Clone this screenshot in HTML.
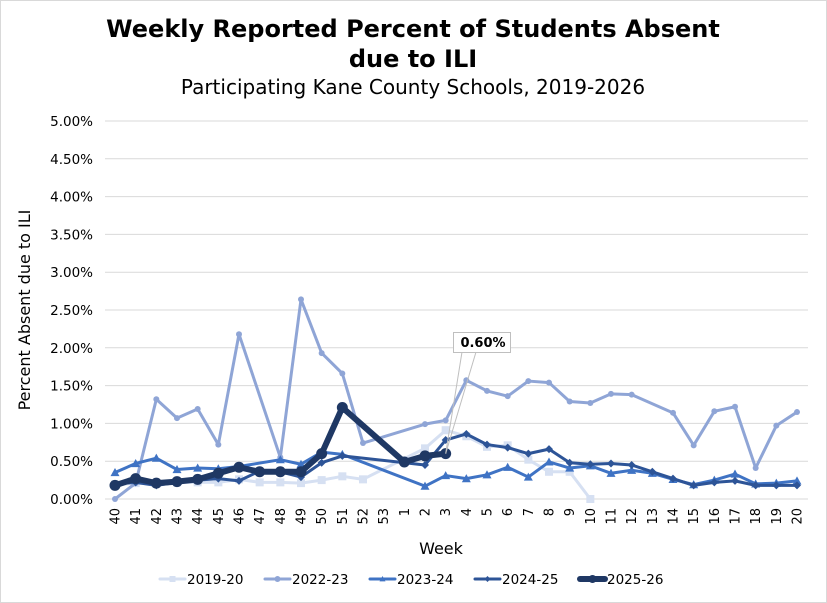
<!DOCTYPE html>
<html><head><meta charset="utf-8"><style>
body{margin:0;background:#fff;}
svg{display:block;font-family:"DejaVu Sans","Liberation Sans",sans-serif;}
</style></head><body>
<svg id="chart" width="827" height="603" viewBox="0 0 827 603">
<rect x="0.5" y="0.5" width="826" height="602" fill="#fff" stroke="#d9d9d9"/>
<text x="413" y="37" text-anchor="middle" font-size="24" font-weight="bold" fill="#000">Weekly Reported Percent of Students Absent</text>
<text x="413" y="67" text-anchor="middle" font-size="24" font-weight="bold" fill="#000">due to ILI</text>
<text x="413" y="94" text-anchor="middle" font-size="20" fill="#000">Participating Kane County Schools, 2019-2026</text>
<text transform="translate(30,310) rotate(-90)" text-anchor="middle" font-size="16" fill="#000">Percent Absent due to ILI</text>
<text x="441" y="554" text-anchor="middle" font-size="16" fill="#000">Week</text>
<g id="grid"></g><g id="yt"></g><g id="xt"></g><g id="series"></g><g id="legend"></g>
</svg>
<script>
const categories=["40","41","42","43","44","45","46","47","48","49","50","51","52","53","1","2","3","4","5","6","7","8","9","10","11","12","13","14","15","16","17","18","19","20"];
const yTicks=[0,0.5,1,1.5,2,2.5,3,3.5,4,4.5,5];
const yTickLabels=["0.00%","0.50%","1.00%","1.50%","2.00%","2.50%","3.00%","3.50%","4.00%","4.50%","5.00%"];
const s2019=[0.19,0.21,0.2,0.22,0.22,0.22,0.26,0.22,0.22,0.21,0.25,0.30,0.26,null,null,0.67,0.91,0.83,0.69,0.71,0.52,0.36,0.36,0.0,null,null,null,null,null,null,null,null,null,null];
const s2022=[0.0,0.21,1.32,1.07,1.19,0.72,2.18,null,0.55,2.64,1.93,1.66,0.74,null,null,0.99,1.04,1.57,1.43,1.36,1.56,1.54,1.29,1.27,1.39,1.38,null,1.14,0.71,1.16,1.22,0.41,0.97,1.15];
const s2023=[0.35,0.47,0.54,0.39,0.41,0.40,0.43,null,0.52,0.46,0.62,0.59,null,null,null,0.17,0.31,0.27,0.32,0.42,0.29,0.49,0.41,0.44,0.34,0.38,0.34,0.26,0.19,0.25,0.33,0.20,0.21,0.24];
const s2024=[0.20,0.22,0.18,0.22,0.25,0.27,0.24,0.37,0.36,0.29,0.48,0.57,null,null,null,0.45,0.78,0.86,0.72,0.68,0.60,0.66,0.48,0.46,0.47,0.45,0.36,0.27,0.18,0.22,0.24,0.18,0.18,0.18];
const s2025=[0.18,0.27,0.21,0.23,0.26,0.34,0.42,0.36,0.36,0.36,0.60,1.21,null,null,0.49,0.57,0.60,null,null,null,null,null,null,null,null,null,null,null,null,null,null,null,null,null];
const seriesNames=["2019-20","2022-23","2023-24","2024-25","2025-26"];
const NS="http://www.w3.org/2000/svg";
const X0=115,X1=797,Y0=499,Ytop=121;
function xs(i){return X0+i*(X1-X0)/(categories.length-1);}
function ys(v){return Y0-v/5*(Y0-Ytop);}
function el(tag,attrs,parent){const e=document.createElementNS(NS,tag);for(const k in attrs)e.setAttribute(k,attrs[k]);parent.appendChild(e);return e;}
const grid=document.getElementById('grid'),yt=document.getElementById('yt'),xt=document.getElementById('xt'),sg=document.getElementById('series'),lg=document.getElementById('legend');
yTicks.forEach((t,i)=>{
 const l=el('line',{x1:105,x2:808,y1:ys(t),y2:ys(t),stroke:'#d9d9d9','stroke-width':1},grid);
 
 
 const tx=el('text',{x:93,y:ys(t)+5,'text-anchor':'end','font-size':13.5,fill:'#000'},yt);
 tx.textContent=yTickLabels[i];
 
 
});
categories.forEach((c,i)=>{
 const tx=el('text',{transform:`translate(${xs(i)+4.5},${508}) rotate(-90)`,'text-anchor':'end','font-size':13,fill:'#000'},xt);
 tx.textContent=c;
 
 
});
const styles=[
 {d:s2019,c:'#d6e0f2',w:3,m:'square',ms:4},
 {d:s2022,c:'#8fa5d6',w:3,m:'circle',ms:3},
 {d:s2023,c:'#3f73c4',w:3,m:'triangle',ms:4.5},
 {d:s2024,c:'#2d5497',w:3,m:'diamond',ms:4},
 {d:s2025,c:'#1f3864',w:6,m:'circle',ms:5.5}
];
function marker(type,x,y,s,c,parent){
 let e;
 if(type==='square')e=el('rect',{x:x-s,y:y-s,width:2*s,height:2*s,fill:c},parent);
 else if(type==='circle')e=el('circle',{cx:x,cy:y,r:s,fill:c},parent);
 else if(type==='triangle')e=el('polygon',{points:`${x},${y-s} ${x+s},${y+s*0.8} ${x-s},${y+s*0.8}`,fill:c},parent);
 else e=el('polygon',{points:`${x},${y-s} ${x+s},${y} ${x},${y+s} ${x-s},${y}`,fill:c},parent);
 return e;
}
styles.forEach((st,si)=>{
 const g=el('g',{},sg);
 
 
 const pts=[];st.d.forEach((v,i)=>{if(v!==null)pts.push([xs(i),ys(v)]);});
 const p=el('polyline',{points:pts.map(q=>q.join(',')).join(' '),fill:'none',stroke:st.c,'stroke-width':st.w,'stroke-linejoin':'round','stroke-linecap':'round'},g);
 
 
 pts.forEach(q=>{const m=marker(st.m,q[0],q[1],st.ms,st.c,g);
  
  });
});
const li=16, lx=xs(li), ly=ys(s2025[li]);
const cg=el('g',{},sg);


el('line',{x1:lx,y1:ly,x2:462,y2:352,stroke:'#bfbfbf','stroke-width':1},cg);
el('line',{x1:lx,y1:ly,x2:476,y2:352,stroke:'#bfbfbf','stroke-width':1},cg);
el('rect',{x:453.5,y:332.5,width:57,height:20,fill:'#fff',stroke:'#bfbfbf'},cg);
const ct=el('text',{x:483,y:347,'text-anchor':'middle','font-size':13,'font-weight':'bold',fill:'#000'},cg);
ct.textContent=(s2025[li]).toFixed(2)+'%';
const lxs=[160,265,370,475,580];
styles.forEach((st,si)=>{
 const g=el('g',{},lg);
 
 
 el('line',{x1:lxs[si],x2:lxs[si]+25,y1:579,y2:579,stroke:st.c,'stroke-width':st.w,'stroke-linecap':'round'},g);
 marker(st.m,lxs[si]+12.5,579,si===4?4:3,st.c,g);
 const t=el('text',{x:lxs[si]+27,y:584,'font-size':13.5,fill:'#000'},g);
 t.textContent=seriesNames[si];
});
</script>
</body></html>
